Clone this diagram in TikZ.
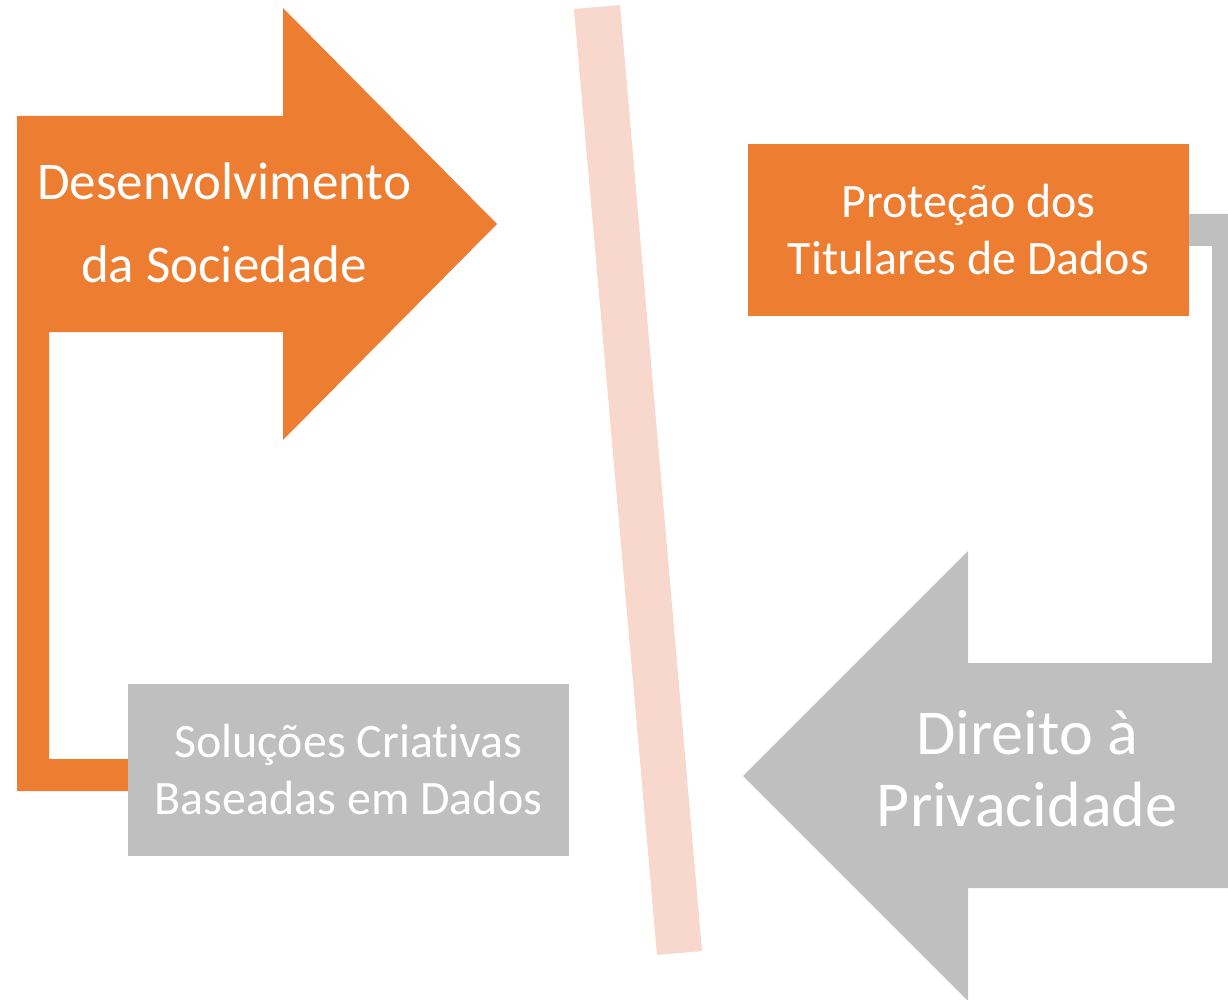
\documentclass[tikz,border=0pt]{standalone}
\usepackage{fontspec}
\setmainfont[Ligatures=NoCommon]{Carlito}
\definecolor{orng}{HTML}{ED7D31}
\definecolor{gry}{HTML}{BFBFBF}
\definecolor{pnk}{HTML}{F8D7CD}
\tikzset{
  boxnode/.style={minimum width=441pt, minimum height=172pt, inner sep=0pt, text=white, align=center, font=\fontsize{48}{57}\selectfont},
  bigtext/.style={inner sep=0pt, text=white, align=center}
}
\begin{document}
\begin{tikzpicture}[x=1pt,y=-1pt]
\useasboundingbox (0,0) rectangle (1228,1000);
\clip (0,0) rectangle (1228,1000);
% orange bent arrow
\fill[orng] (17,116) -- (283,116) -- (283,8) -- (497,224) -- (283,440) -- (283,332) -- (49,332) -- (49,759) -- (140,759) -- (140,791) -- (17,791) -- cycle;
% gray bent arrow
\fill[gry] (1180,214) -- (1244,214) -- (1244,888) -- (968,888) -- (968,1001) -- (743,776) -- (968,551) -- (968,663) -- (1212,663) -- (1212,246) -- (1180,246) -- cycle;
% pink divider
\fill[pnk] (574,9) -- (620,5) -- (702,951) -- (657,955) -- cycle;
% boxes
\node[boxnode, fill=orng] (prot) at (968.5,230) {Proteção dos\\Titulares de Dados};
\node[boxnode, fill=gry] (sol) at (348.5,770) {Soluções Criativas\\Baseadas em Dados};
% arrow texts
\node[bigtext, font=\fontsize{53}{83}\selectfont] (des) at (224,223) {Desenvolvimento\\da Sociedade};
\node[bigtext, font=\fontsize{64}{72}\selectfont] (dir) at (1027,769) {Direito à\\Privacidade};
\end{tikzpicture}
\end{document}
